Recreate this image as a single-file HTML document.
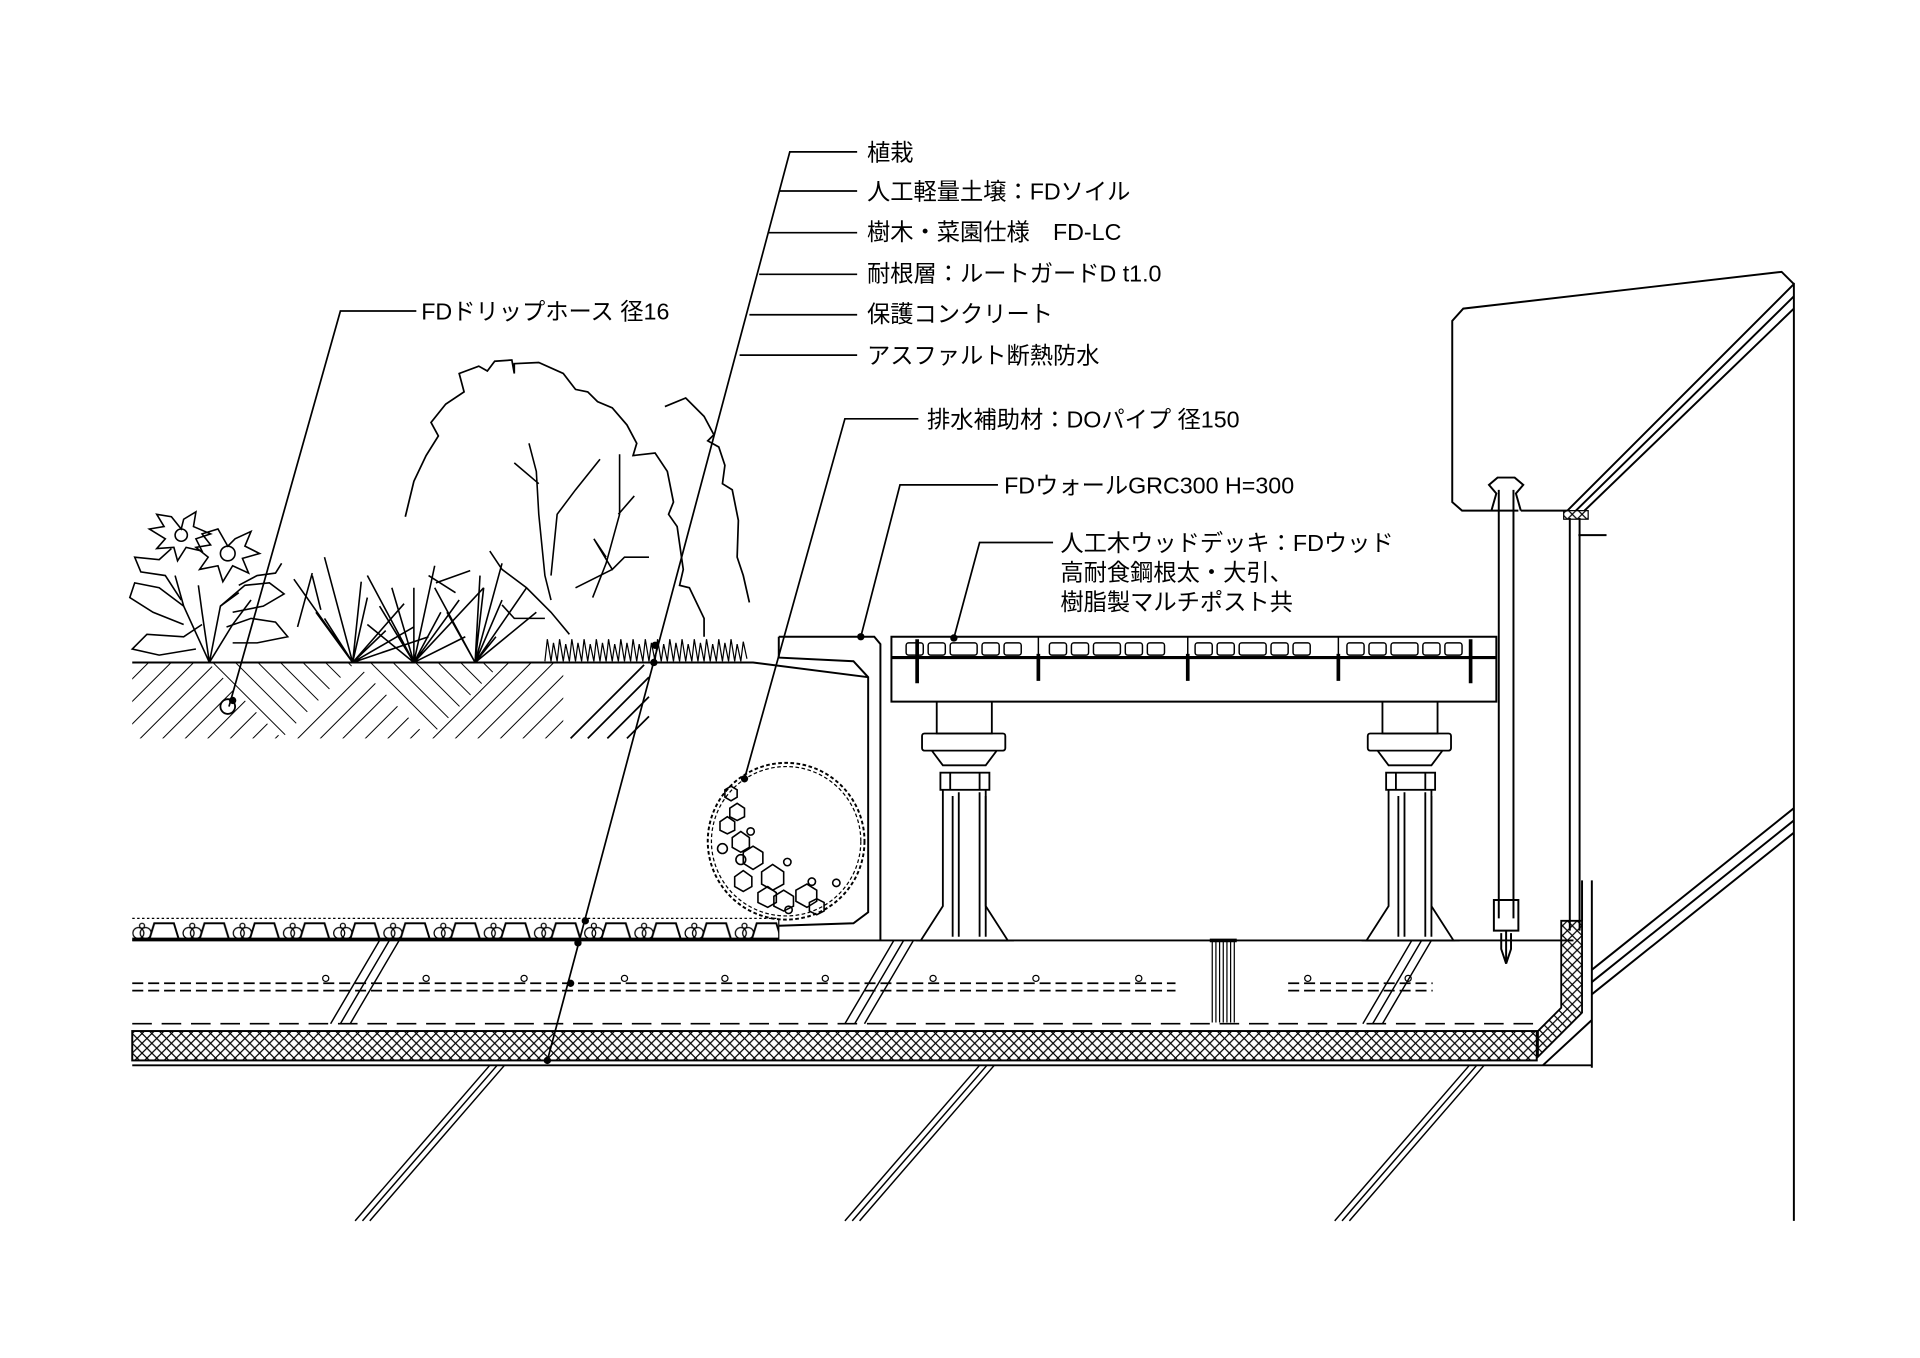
<!DOCTYPE html>
<html><head><meta charset="utf-8"><style>
html,body{margin:0;padding:0;background:#fff;}
svg{display:block;}
text{font-family:"Liberation Sans","Noto Sans CJK JP",sans-serif;font-size:19px;fill:#000;}
</style></head><body>
<svg width="1920" height="1358" viewBox="0 0 1568 1109" xmlns="http://www.w3.org/2000/svg">
<defs>
<pattern id="xh" width="8" height="8" patternUnits="userSpaceOnUse">
<path d="M0 0L8 8M8 0L0 8" stroke="#000" stroke-width="1"/>
</pattern>
<pattern id="hb" width="13" height="13" patternUnits="userSpaceOnUse" patternTransform="rotate(45)">
<path d="M0 0V13" stroke="#000" stroke-width="1.6"/>
</pattern>
<pattern id="hf" width="13" height="13" patternUnits="userSpaceOnUse" patternTransform="rotate(-45)">
<path d="M0 0V13" stroke="#000" stroke-width="1.6"/>
</pattern>
<pattern id="grav" width="41" height="18" patternUnits="userSpaceOnUse" x="108" y="750">
<path d="M14 17L18 4H34L38 17" fill="none" stroke="#000" stroke-width="1.6"/>
<circle cx="5" cy="12" r="4.5" fill="none" stroke="#000"/><circle cx="11" cy="12" r="4.5" fill="none" stroke="#000"/><circle cx="8" cy="6" r="2" fill="none" stroke="#000"/>
</pattern>
</defs>
<g fill="none" stroke="#000" stroke-width="1.4">
<path d="M700 124H645L447 866"/>
<path d="M700 156H637M700 190H628M700 224H620M700 257H612M700 290H604"/>
<path d="M340 254H278L187 577"/>
<path d="M750 342H690L608 636"/>
<path d="M815 396H735L703 520"/>
<path d="M860 443H800L779 521"/>
</g>
<g fill="#000">
<circle cx="535" cy="527" r="3"/><circle cx="534" cy="541" r="3"/><circle cx="478" cy="752" r="3"/><circle cx="472" cy="770" r="3"/><circle cx="466" cy="803" r="3"/><circle cx="447" cy="866" r="3"/>
<circle cx="190" cy="572" r="3"/><circle cx="608" cy="636" r="3"/><circle cx="703" cy="520" r="3"/><circle cx="779" cy="521" r="3"/>
</g>
<circle cx="186" cy="577" r="6" fill="none" stroke="#000" stroke-width="1.5"/>
<text x="708" y="131">植栽</text>
<text x="708" y="163">人工軽量土壌：FDソイル</text>
<text x="708" y="196">樹木・菜園仕様　FD-LC</text>
<text x="708" y="230">耐根層：ルートガードD t1.0</text>
<text x="708" y="263">保護コンクリート</text>
<text x="708" y="297">アスファルト断熱防水</text>
<text x="344" y="261">FDドリップホース 径16</text>
<text x="757" y="349">排水補助材：DOパイプ 径150</text>
<text x="820" y="403">FDウォールGRC300 H=300</text>
<text x="866" y="450">人工木ウッドデッキ：FDウッド</text>
<text x="866" y="474">高耐食鋼根太・大引、</text>
<text x="866" y="498">樹脂製マルチポスト共</text>

<polygon points="108,541 170,541 230,603 108,603" fill="url(#hb)"/>
<polygon points="170,541 230,603 290,541" fill="url(#hf)"/>
<polygon points="290,541 230,603 350,603" fill="url(#hb)"/>
<polygon points="290,541 350,603 410,541" fill="url(#hf)"/>
<polygon points="410,541 350,603 460,603 460,541" fill="url(#hb)"/>
<g fill="none" stroke="#000" stroke-width="1.4">
<path d="M466 603L526 543M480 603L530 553M496 603L530 569M512 603L530 585"/>
</g>
<g fill="none" stroke="#000" stroke-width="1.6">
<path d="M108 541H615L709 553"/>
<path d="M636 520H714L719 526V768"/>
<path d="M636 520V537L697 540L709 553V745L697 754L636 756"/>
<circle cx="642" cy="687" r="64" stroke-dasharray="3 2"/>
<circle cx="642" cy="687" r="61" stroke-dasharray="3 2" stroke-width="1"/>
</g>
<g fill="none" stroke="#000" stroke-width="1.3">
<polygon points="592,645 597,642 602,645 602,651 597,654 592,651"/>
<polygon points="596,660 602,656 608,660 608,667 602,670 596,667"/>
<polygon points="588,671 594,667 600,671 600,678 594,681 588,678"/>
<polygon points="598,684 605,679 612,684 612,692 605,696 598,692"/>
<polygon points="607,696 615,691 623,696 623,705 615,710 607,705"/>
<polygon points="622,712 631,706 640,712 640,722 631,727 622,722"/>
<polygon points="600,716 607,711 614,716 614,724 607,728 600,724"/>
<polygon points="619,729 627,724 634,729 634,737 627,741 619,737"/>
<polygon points="632,732 640,727 648,732 648,740 640,744 632,740"/>
<polygon points="650,727 659,722 667,727 667,736 659,741 650,736"/>
<polygon points="661,737 667,734 673,737 673,744 667,747 661,744"/>
<circle cx="590" cy="693" r="4"/><circle cx="605" cy="702" r="4"/><circle cx="644" cy="743" r="3"/><circle cx="663" cy="720" r="3"/><circle cx="683" cy="721" r="3"/><circle cx="613" cy="679" r="3"/><circle cx="643" cy="704" r="3"/>
</g>
<path d="M445 540 L447 522 L450 540 L452 525 L455 540 L457 522 L460 540 L462 526 L465 540 L467 522 L470 540 L472 525 L475 540 L477 522 L480 540 L482 526 L485 540 L487 522 L490 540 L492 525 L495 540 L497 522 L500 540 L502 526 L505 540 L507 522 L510 540 L512 525 L515 540 L517 522 L520 540 L522 526 L525 540 L527 522 L530 540 L532 525 L535 540 L537 522 L540 540 L542 526 L545 540 L547 522 L550 540 L552 525 L555 540 L557 522 L560 540 L562 526 L565 540 L567 522 L570 540 L572 525 L575 540 L577 522 L580 540 L582 526 L585 540 L587 522 L590 540 L592 525 L595 540 L597 522 L600 540 L602 526 L605 540 L607 524 L610 538" fill="none" stroke="#000" stroke-width="1"/>
<path d="M331 422L338 393L348 372L358 356L352 345L364 330L379 320L375 305L391 299L398 303L404 295L418 294L420 305L420 297L440 296L460 305L470 318L480 320L488 328L500 333L512 347L520 362L517 372L535 370L545 385L550 410L546 420L553 430L558 465L555 478L563 480L575 505L575 520" fill="none" stroke="#000" stroke-width="1.4"/>
<path d="M543 332L560 325L575 340L583 355L578 360L587 365L592 380L590 395L598 400L603 425L602 455L607 470L612 492" fill="none" stroke="#000" stroke-width="1.4"/>
<g fill="none" stroke="#000" stroke-width="1.3">
<path d="M432 362L438 385L440 420L445 470L450 490M420 378L440 395"/>
<path d="M490 375L470 400L455 420L450 470"/>
<path d="M506 371V420L495 460L484 488M505 420L518 405"/>
<path d="M400 450L410 465L430 480L450 500L465 518M410 494L420 505L445 505"/>
<path d="M485 440L500 465L510 455L530 455M500 465L470 480M495 455L485 440"/>
</g>
<g fill="none" stroke="#000" stroke-width="1.3">
<path d="M288 541L240 473M288 541L258 500M288 541L265 455M288 541L295 475M288 541L265 505M288 541L300 488M288 541L315 515M288 541L350 520M288 541L330 493M288 541L338 512"/>
<path d="M338 541L300 470M338 541L320 480M338 541L338 480M338 541L355 462M338 541L375 490M338 541L310 495M338 541L380 520M338 541L300 510M338 541L360 500M338 541L395 480"/>
<path d="M388 541L365 500M388 541L392 470M388 541L410 490M388 541L430 480M388 541L438 500M388 541L405 520M388 541L355 480M388 541L410 460M388 541L395 480"/>
<path d="M255 470L262 498M243 512L255 468M350 470L372 484M356 476L384 466"/>
</g>
<g fill="none" stroke="#000" stroke-width="1.3">
<path d="M171 541L150 495L143 470M171 541L165 500L162 478M171 541L180 495L195 484M171 541L190 510L205 490"/>
<path d="M150 495L130 480L110 476L106 488L125 500L150 510M165 510L150 520L120 518L108 530L130 535L160 530"/>
<path d="M180 495L200 478L220 476L232 485L215 495L190 500M185 512L205 505L225 508L235 520L210 525L190 525"/>
<path d="M148 490L135 470L115 467L110 455L130 457L140 448M195 478L210 470L225 468L230 460"/>
<circle cx="148" cy="437" r="5"/><circle cx="186" cy="452" r="6"/>
<path d="M148 432L140 422L128 420L134 430L122 432L135 440L128 448L142 447L145 458L152 447L165 450L160 440L172 436L158 430L160 418L150 424Z"/>
<path d="M186 446L178 432L165 436L172 445L160 447L170 455L163 465L178 462L182 475L190 462L203 468L198 456L212 452L200 446L205 434L192 440Z"/>
</g>
<rect x="108" y="750" width="528" height="18" fill="url(#grav)"/>
<path d="M108 750H636" stroke="#000" stroke-dasharray="2 2" fill="none"/>
<path d="M108 767H636" stroke="#000" stroke-width="2.5" fill="none"/>
<path d="M636 750V768" stroke="#000" fill="none"/>
<g fill="none" stroke="#000" stroke-width="1.6">
<path d="M108 768H1285"/>
<path d="M108 870H1300"/>
<path d="M108 803H960M108 809H960" stroke-dasharray="9 4" stroke-width="1.4"/>
<path d="M1052 803H1170M1052 809H1170" stroke-dasharray="9 4" stroke-width="1.4"/>
<path d="M108 836H1255" stroke-dasharray="16 8" stroke-width="1.4"/>
</g>
<g fill="none" stroke="#000" stroke-width="1">
<circle cx="266" cy="799" r="2.5"/><circle cx="348" cy="799" r="2.5"/><circle cx="428" cy="799" r="2.5"/><circle cx="510" cy="799" r="2.5"/><circle cx="592" cy="799" r="2.5"/><circle cx="674" cy="799" r="2.5"/><circle cx="762" cy="799" r="2.5"/><circle cx="846" cy="799" r="2.5"/><circle cx="930" cy="799" r="2.5"/><circle cx="1068" cy="799" r="2.5"/><circle cx="1150" cy="799" r="2.5"/>
</g>
<rect x="108" y="842" width="1147" height="24" fill="url(#xh)" stroke="#000" stroke-width="1.6"/>
<g fill="none" stroke="#000" stroke-width="1">
<path d="M990 768V835M993 768V835M996 768V835M999 768V835M1002 768V835M1005 768V835M1008 768V835"/>
<path d="M988 768H1010" stroke-width="3"/>
</g>
<g fill="none" stroke="#000" stroke-width="1.2">
<path d="M310 768L270 836M318 768L278 836M326 768L286 836"/>
<path d="M730 768L690 836M738 768L698 836M746 768L706 836"/>
<path d="M1153 768L1113 836M1161 768L1121 836M1169 768L1129 836"/>
<path d="M400 870L290 997M406 870L296 997M412 870L302 997"/>
<path d="M800 870L690 997M806 870L696 997M812 870L702 997"/>
<path d="M1200 870L1090 997M1206 870L1096 997M1212 870L1102 997"/>
</g>
<polygon points="1275,752 1292,752 1292,827 1256,863 1256,842 1275,823" fill="url(#xh)" stroke="#000" stroke-width="1.5"/>
<g fill="none" stroke="#000" stroke-width="1.6">
<path d="M1292 752V719M1300 719V872M1300 833L1260 870"/>
<path d="M1465 231V997"/>
<path d="M1300 792L1465 660M1300 802L1465 670M1300 812L1465 680"/>
<path d="M1240 417H1194L1186 410V262L1195 252L1455 222L1465 232"/>
<path d="M1280 417L1465 232M1287 417L1465 242M1294 417L1465 252"/>
<path d="M1218 417L1222 403L1216 396L1223 390H1237L1244 396L1238 403L1242 417"/>
<path d="M1242 417H1280"/>
<path d="M1224 400V750M1236 400V750"/>
<path d="M1220 735H1240V760H1220Z"/>
<path d="M1230 760V787L1226 775V762M1234 762V775L1230 787"/>
<path d="M1282 423V760M1290 423V760"/>
<path d="M1289 437H1312"/>
</g>
<rect x="1277" y="417" width="20" height="7" fill="url(#xh)" stroke="#000"/>
<g fill="none" stroke="#000" stroke-width="1.6">
<path d="M728 520H1222V573H728Z"/>
<path d="M728 537H1222" stroke-width="2.5"/>
</g>
<g fill="none" stroke="#000" stroke-width="1.2">
<rect x="740" y="525" width="14" height="10" rx="2"/><rect x="758" y="525" width="14" height="10" rx="2"/><rect x="776" y="525" width="22" height="10" rx="2"/><rect x="802" y="525" width="14" height="10" rx="2"/><rect x="820" y="525" width="14" height="10" rx="2"/>
<rect x="857" y="525" width="14" height="10" rx="2"/><rect x="875" y="525" width="14" height="10" rx="2"/><rect x="893" y="525" width="22" height="10" rx="2"/><rect x="919" y="525" width="14" height="10" rx="2"/><rect x="937" y="525" width="14" height="10" rx="2"/>
<rect x="976" y="525" width="14" height="10" rx="2"/><rect x="994" y="525" width="14" height="10" rx="2"/><rect x="1012" y="525" width="22" height="10" rx="2"/><rect x="1038" y="525" width="14" height="10" rx="2"/><rect x="1056" y="525" width="14" height="10" rx="2"/>
<rect x="1100" y="525" width="14" height="10" rx="2"/><rect x="1118" y="525" width="14" height="10" rx="2"/><rect x="1136" y="525" width="22" height="10" rx="2"/><rect x="1162" y="525" width="14" height="10" rx="2"/><rect x="1180" y="525" width="14" height="10" rx="2"/>
<path d="M848 520V537M970 520V537M1093 520V537"/>
</g>
<g stroke="#000" stroke-width="3">
<path d="M749 522V558M848 534V556M970 534V556M1093 534V556M1201 522V558"/>
</g>
<g id="ped" fill="none" stroke="#000" stroke-width="1.5">
<path d="M765 573V599H810V573"/>
<rect x="753" y="599" width="68" height="14" rx="2"/>
<path d="M761 613L770 625H805L814 613"/>
<rect x="768" y="631" width="40" height="14"/>
<path d="M776 631V645M800 631V645"/>
<path d="M770 645V740L752 768H823L805 740V645"/>
<path d="M783 647V765M800 647V765M778 650V765M805 650V765"/>
<path d="M748 768H828"/>
</g>
<use href="#ped" transform="translate(364,0)"/>
</svg>
</body></html>
